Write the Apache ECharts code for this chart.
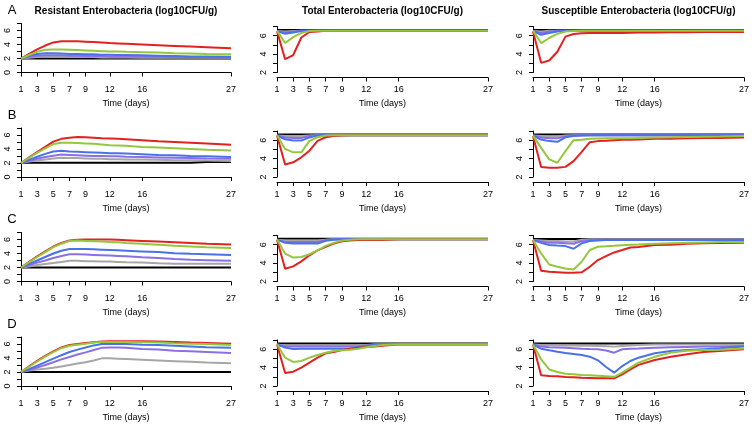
<!DOCTYPE html>
<html><head><meta charset="utf-8">
<script src="https://cdn.jsdelivr.net/npm/echarts@6/dist/echarts.min.js"></script>
<style>html,body{margin:0;padding:0;background:#fff}#c{width:752px;height:425px}</style>
</head><body><div id="c"></div>
<script>
// ---- data ----
const days = [1,2,3,4,5,6,7,8,9,10,11,12,13,14,16,18,20,22,24,27];
const xTicks = [1,3,5,7,9,12,16,27];
const seriesNames = ['black','gray','purple','blue','green','red'];
const rowLabels = ['A','B','C','D'];
const colTitles = ['Resistant Enterobacteria (log10CFU/g)','Total Enterobacteria (log10CFU/g)','Susceptible Enterobacteria (log10CFU/g)'];
const xName = 'Time (days)';

// Resistant
const resA = [
 [2,2,2,2,2,2,2,2,2,2,2,2,2,2,2,2,2,2,2,2],
 [2,2.1,2.2,2.25,2.25,2.25,2.2,2.2,2.2,2.2,2.15,2.15,2.15,2.15,2.1,2.1,2.1,2.1,2.1,2.1],
 [2,2.25,2.4,2.45,2.45,2.45,2.4,2.4,2.35,2.35,2.35,2.3,2.3,2.3,2.25,2.25,2.2,2.2,2.2,2.15],
 [2,2.4,2.65,2.75,2.75,2.7,2.65,2.65,2.6,2.6,2.55,2.55,2.5,2.5,2.45,2.4,2.35,2.3,2.3,2.25],
 [2,2.5,2.95,3.25,3.3,3.3,3.25,3.2,3.15,3.1,3.05,3.0,3.0,2.95,2.9,2.85,2.75,2.7,2.65,2.6],
 [2,2.65,3.3,3.85,4.3,4.45,4.48,4.45,4.4,4.35,4.3,4.2,4.15,4.1,4.0,3.9,3.8,3.7,3.6,3.45]
];
const resB = [
 [2,2.05,2.05,2.05,2.05,2.05,2.05,2.05,2.05,2.05,2.05,2.05,2.05,2.05,2.05,2.05,2.05,2.05,2.15,2.15],
 [2,2.2,2.35,2.5,2.65,2.75,2.7,2.7,2.65,2.6,2.6,2.55,2.55,2.5,2.5,2.45,2.4,2.4,2.35,2.3],
 [2,2.3,2.6,2.85,3.05,3.2,3.15,3.1,3.05,3.0,3.0,2.95,2.95,2.9,2.85,2.8,2.75,2.7,2.65,2.6],
 [2,2.45,2.9,3.3,3.65,3.75,3.65,3.6,3.55,3.5,3.45,3.4,3.4,3.35,3.25,3.15,3.1,3.0,2.95,2.85],
 [2,2.75,3.45,4.1,4.7,4.9,4.9,4.85,4.8,4.75,4.65,4.55,4.5,4.45,4.3,4.2,4.1,4.0,3.9,3.8],
 [2,2.8,3.55,4.3,5.05,5.45,5.62,5.7,5.68,5.62,5.55,5.5,5.45,5.4,5.25,5.1,5.0,4.9,4.8,4.6]
];
const resC = [
 [2,2,2,2,2,2,2,2,2,2,2,2,2,2,2,2,2,2,2,2],
 [2,2.15,2.35,2.5,2.65,2.8,2.95,2.95,2.9,2.9,2.85,2.85,2.8,2.75,2.7,2.6,2.55,2.55,2.55,2.55],
 [2,2.3,2.7,3.0,3.35,3.65,3.9,3.9,3.85,3.8,3.75,3.7,3.65,3.6,3.45,3.35,3.2,3.1,3.05,2.95],
 [2,2.5,3.0,3.5,4.0,4.4,4.65,4.65,4.65,4.6,4.55,4.5,4.45,4.4,4.3,4.2,4.05,3.95,3.9,3.8],
 [2,2.75,3.5,4.2,4.9,5.4,5.8,5.85,5.8,5.75,5.7,5.65,5.6,5.5,5.4,5.25,5.1,5.0,4.9,4.8],
 [2,2.8,3.6,4.3,5.0,5.5,5.85,5.95,6.0,6.0,6.0,6.0,5.95,5.9,5.8,5.7,5.6,5.5,5.4,5.3]
];
const resD = [
 [2,2,2,2,2,2,2,2,2,2,2,2,2,2,2,2,2,2,2,2],
 [2,2.2,2.35,2.45,2.6,2.8,3.0,3.2,3.4,3.65,3.95,3.95,3.9,3.85,3.75,3.65,3.55,3.45,3.35,3.25],
 [2,2.3,2.65,3.0,3.4,3.8,4.15,4.5,4.8,5.15,5.45,5.5,5.5,5.45,5.3,5.2,5.05,4.95,4.85,4.7],
 [2,2.4,2.9,3.4,3.9,4.4,4.85,5.2,5.5,5.8,6.0,6.05,6.0,6.0,5.9,5.85,5.75,5.65,5.55,5.45],
 [2,2.75,3.5,4.2,4.85,5.4,5.75,5.9,6.05,6.2,6.3,6.3,6.3,6.3,6.25,6.2,6.1,6.05,6.0,5.85],
 [2,2.8,3.6,4.3,4.95,5.5,5.85,6.0,6.15,6.25,6.35,6.4,6.4,6.4,6.4,6.35,6.3,6.2,6.15,6.05]
];
// Total
const totA = [
 [6.62,6.62,6.62,6.62,6.62,6.62,6.62,6.62,6.62,6.62,6.62,6.62,6.62,6.62,6.62,6.62,6.62,6.62,6.62,6.62],
 [6.5,6.45,6.5,6.55,6.55,6.55,6.55,6.55,6.55,6.55,6.55,6.55,6.55,6.55,6.55,6.55,6.55,6.55,6.55,6.55],
 [6.5,6.35,6.45,6.55,6.55,6.55,6.55,6.55,6.55,6.55,6.55,6.55,6.55,6.55,6.55,6.55,6.55,6.55,6.55,6.55],
 [6.5,6.2,6.35,6.5,6.55,6.55,6.55,6.55,6.55,6.55,6.55,6.55,6.55,6.55,6.55,6.55,6.55,6.55,6.55,6.55],
 [6.55,5.2,5.85,6.3,6.5,6.55,6.55,6.55,6.55,6.55,6.55,6.55,6.55,6.55,6.55,6.55,6.55,6.55,6.55,6.55],
 [6.5,3.45,3.9,5.8,6.4,6.45,6.55,6.55,6.55,6.55,6.55,6.55,6.55,6.55,6.55,6.55,6.55,6.55,6.55,6.55]
];
const totB = [
 [6.62,6.62,6.62,6.62,6.62,6.62,6.62,6.62,6.62,6.62,6.62,6.62,6.62,6.62,6.62,6.62,6.62,6.62,6.62,6.62],
 [6.5,6.45,6.45,6.45,6.5,6.55,6.55,6.55,6.55,6.55,6.55,6.55,6.55,6.55,6.55,6.55,6.55,6.55,6.55,6.55],
 [6.5,6.3,6.25,6.25,6.45,6.55,6.55,6.55,6.55,6.55,6.55,6.55,6.55,6.55,6.55,6.55,6.55,6.55,6.55,6.55],
 [6.5,6.1,5.96,5.96,6.3,6.5,6.55,6.55,6.55,6.55,6.55,6.55,6.55,6.55,6.55,6.55,6.55,6.55,6.55,6.55],
 [6.55,5.05,4.68,4.68,5.93,6.32,6.5,6.55,6.55,6.55,6.55,6.55,6.55,6.55,6.55,6.55,6.55,6.55,6.55,6.55],
 [6.5,3.36,3.6,4.14,4.86,5.93,6.32,6.45,6.5,6.55,6.55,6.55,6.55,6.55,6.55,6.55,6.55,6.55,6.55,6.55]
];
const totC = [
 [6.65,6.65,6.65,6.65,6.65,6.65,6.65,6.65,6.65,6.65,6.65,6.65,6.65,6.65,6.65,6.65,6.65,6.65,6.65,6.65],
 [6.55,6.45,6.45,6.45,6.45,6.45,6.55,6.6,6.6,6.6,6.6,6.6,6.6,6.6,6.6,6.6,6.6,6.6,6.6,6.6],
 [6.55,6.3,6.3,6.3,6.3,6.3,6.5,6.6,6.6,6.6,6.6,6.6,6.6,6.6,6.6,6.6,6.6,6.6,6.6,6.6],
 [6.55,6.2,6.12,6.12,6.12,6.12,6.42,6.55,6.6,6.6,6.6,6.6,6.6,6.6,6.6,6.6,6.6,6.6,6.6,6.6],
 [6.6,5.03,4.6,4.66,4.96,5.39,5.87,6.2,6.45,6.55,6.6,6.6,6.6,6.6,6.6,6.6,6.6,6.6,6.6,6.6],
 [6.55,3.39,3.64,4.19,4.85,5.39,5.76,6.12,6.38,6.45,6.5,6.5,6.5,6.5,6.6,6.6,6.6,6.6,6.6,6.6]
];
const totD = [
 [6.62,6.62,6.62,6.62,6.62,6.62,6.62,6.62,6.62,6.62,6.62,6.62,6.62,6.62,6.62,6.62,6.62,6.62,6.62,6.62],
 [6.5,6.4,6.4,6.4,6.4,6.4,6.4,6.4,6.4,6.4,6.4,6.45,6.5,6.53,6.53,6.53,6.53,6.53,6.53,6.53],
 [6.5,6.3,6.28,6.28,6.28,6.28,6.28,6.28,6.28,6.28,6.3,6.4,6.5,6.53,6.53,6.53,6.53,6.53,6.53,6.53],
 [6.5,6.17,6.02,6.06,6.06,6.06,6.06,6.06,6.06,6.06,6.2,6.35,6.45,6.53,6.53,6.53,6.53,6.53,6.53,6.53],
 [6.55,5.08,4.61,4.72,5.08,5.37,5.62,5.8,5.88,5.95,6.05,6.2,6.35,6.45,6.53,6.53,6.53,6.53,6.53,6.53],
 [6.5,3.41,3.56,4.0,4.54,5.08,5.55,5.7,5.91,6.06,6.17,6.24,6.3,6.38,6.53,6.53,6.53,6.53,6.53,6.53]
];
// Susceptible
const susA = [
 [6.62,6.62,6.62,6.62,6.62,6.62,6.62,6.62,6.62,6.62,6.62,6.62,6.62,6.62,6.62,6.62,6.62,6.62,6.62,6.62],
 [6.5,6.45,6.55,6.55,6.55,6.55,6.55,6.55,6.55,6.55,6.55,6.55,6.55,6.55,6.55,6.55,6.55,6.55,6.55,6.55],
 [6.5,6.3,6.45,6.55,6.55,6.55,6.55,6.55,6.55,6.55,6.55,6.55,6.55,6.55,6.55,6.55,6.55,6.55,6.55,6.55],
 [6.5,6.1,6.3,6.45,6.55,6.55,6.55,6.55,6.55,6.55,6.55,6.55,6.55,6.55,6.55,6.55,6.55,6.55,6.55,6.55],
 [6.55,5.2,5.75,6.2,6.45,6.5,6.55,6.55,6.55,6.55,6.55,6.55,6.55,6.55,6.55,6.55,6.55,6.55,6.55,6.55],
 [6.45,3.05,3.3,4.25,5.9,6.18,6.26,6.28,6.3,6.3,6.3,6.3,6.32,6.35,6.35,6.37,6.38,6.4,6.4,6.4]
];
const susB = [
 [6.62,6.62,6.62,6.62,6.62,6.62,6.62,6.62,6.62,6.62,6.62,6.62,6.62,6.62,6.62,6.62,6.62,6.62,6.62,6.62],
 [6.5,6.45,6.4,6.4,6.5,6.55,6.55,6.55,6.55,6.55,6.55,6.55,6.55,6.55,6.55,6.55,6.55,6.55,6.55,6.55],
 [6.5,6.3,6.2,6.2,6.4,6.5,6.55,6.55,6.55,6.55,6.55,6.55,6.55,6.55,6.55,6.55,6.55,6.55,6.55,6.55],
 [6.5,6.07,5.9,5.83,6.32,6.45,6.5,6.55,6.55,6.55,6.55,6.55,6.55,6.55,6.55,6.55,6.55,6.55,6.55,6.55],
 [6.5,5.17,3.91,3.55,4.81,6.0,6.05,6.15,6.18,6.2,6.2,6.2,6.22,6.25,6.3,6.32,6.35,6.38,6.4,6.45],
 [6.45,3.08,3.0,3.0,3.1,3.73,4.74,5.78,5.9,5.95,6.0,6.04,6.06,6.08,6.15,6.17,6.2,6.23,6.25,6.29]
];
const susC = [
 [6.62,6.62,6.62,6.62,6.62,6.62,6.62,6.62,6.62,6.62,6.62,6.62,6.62,6.62,6.62,6.62,6.62,6.62,6.62,6.62],
 [6.5,6.45,6.4,6.4,6.35,6.35,6.55,6.6,6.6,6.6,6.6,6.6,6.6,6.6,6.6,6.6,6.6,6.6,6.6,6.6],
 [6.5,6.35,6.2,6.2,6.15,6.1,6.4,6.5,6.55,6.55,6.55,6.55,6.55,6.55,6.55,6.55,6.55,6.55,6.55,6.55],
 [6.5,6.2,5.96,5.9,5.85,5.56,6.15,6.4,6.45,6.5,6.5,6.5,6.5,6.5,6.5,6.5,6.5,6.5,6.5,6.5],
 [6.5,5.05,3.85,3.6,3.42,3.3,4.15,5.42,5.78,5.82,5.88,5.95,6.0,6.02,6.1,6.15,6.2,6.25,6.28,6.3],
 [6.5,3.16,3.05,3.0,2.95,2.95,3.0,3.6,4.33,4.75,5.16,5.42,5.7,5.75,5.96,6.0,6.1,6.15,6.18,6.2]
];
const susD = [
 [6.62,6.62,6.62,6.62,6.62,6.62,6.62,6.62,6.62,6.62,6.62,6.62,6.62,6.62,6.62,6.62,6.62,6.62,6.62,6.62],
 [6.5,6.45,6.42,6.42,6.4,6.4,6.38,6.37,6.35,6.33,6.28,6.35,6.4,6.45,6.5,6.5,6.5,6.5,6.5,6.5],
 [6.5,6.3,6.2,6.18,6.15,6.1,6.05,6.02,6.0,5.85,5.62,5.99,6.05,6.08,6.15,6.2,6.25,6.28,6.3,6.35],
 [6.5,6.06,5.88,5.72,5.59,5.48,5.37,5.19,4.79,4.06,3.45,4.17,4.72,5.08,5.55,5.8,5.9,6.0,6.1,6.28],
 [6.5,4.9,3.8,3.52,3.34,3.27,3.2,3.16,3.12,3.06,3.0,3.45,4.0,4.54,5.17,5.63,5.82,5.9,5.95,6.08],
 [6.5,3.16,3.09,3.05,2.98,2.94,2.9,2.87,2.83,2.83,2.83,3.27,3.8,4.3,4.83,5.17,5.46,5.7,5.8,5.99]
];
const panels = [[resA,totA,susA],[resB,totB,susB],[resC,totC,susC],[resD,totD,susD]];
const yMins = [0,2,2];
const yMax = 7;

// ---- styling / layout ----
const colors = {black:'#000000',gray:'#a6a6a6',purple:'#8b6fe6',blue:'#4a72e8',green:'#93c83e',red:'#e3211f'};
const zOrder = {black:2,gray:3,purple:4,blue:5,red:6,green:7};
const colX = [[21,231],[277,488],[533,744]];
const rowBottom = [72.5,177,281.5,386];
const colH = [49,46,46];
const FONT = 'Liberation Sans, Arial, sans-serif';

const grids=[], xAxes=[], yAxes=[], series=[], graphics=[];
let idx=0;
for(let r=0;r<4;r++){
  for(let c=0;c<3;c++){
    const [x0,x1]=colX[c];
    grids.push({left:x0,top:rowBottom[r]-colH[c],width:x1-x0,height:colH[c]});
    xAxes.push({gridIndex:idx,type:'value',min:1,max:27,offset:5,
      axisLine:{show:true,lineStyle:{color:'#000',width:1}},
      axisTick:{show:true,length:4,customValues:xTicks,lineStyle:{color:'#000'}},
      axisLabel:{customValues:xTicks,fontSize:9,color:'#000',fontFamily:FONT,margin:8},
      splitLine:{show:false},
      name:xName,nameLocation:'middle',nameGap:22,nameTextStyle:{fontSize:9,color:'#000',fontFamily:FONT}});
    const ym=yMins[c];
    yAxes.push({gridIndex:idx,type:'value',min:ym,max:yMax,interval:1,
      axisLine:{show:true,lineStyle:{color:'#000',width:1}},
      axisTick:{show:true,length:4,lineStyle:{color:'#000'}},
      axisLabel:{rotate:90,fontSize:9,color:'#000',fontFamily:FONT,margin:9,
        formatter:v=>(v%2===0?String(v):'')},
      splitLine:{show:false}});
    const data=panels[r][c];
    seriesNames.forEach((nm,k)=>{
      series.push({type:'line',xAxisIndex:idx,yAxisIndex:idx,showSymbol:false,symbol:'none',
        data:days.map((d,i)=>[d,data[k][i]]),
        lineStyle:{color:colors[nm],width:2},z:zOrder[nm],silent:true});
    });
    idx++;
  }
  graphics.push({type:'text',x:12,y:rowBottom[r]-62,style:{text:rowLabels[r],fontSize:13,fontFamily:FONT,fill:'#000',align:'center',verticalAlign:'middle'}});
}
colTitles.forEach((t,c)=>{
  graphics.push({type:'text',x:(colX[c][0]+colX[c][1])/2,y:11,style:{text:t,fontSize:10,fontWeight:'bold',fontFamily:FONT,fill:'#000',align:'center',verticalAlign:'middle'}});
});

const chart=echarts.init(document.getElementById('c'),null,{renderer:'canvas'});
chart.setOption({animation:false,backgroundColor:'#fff',grid:grids,xAxis:xAxes,yAxis:yAxes,series,graphic:graphics});
</script></body></html>
